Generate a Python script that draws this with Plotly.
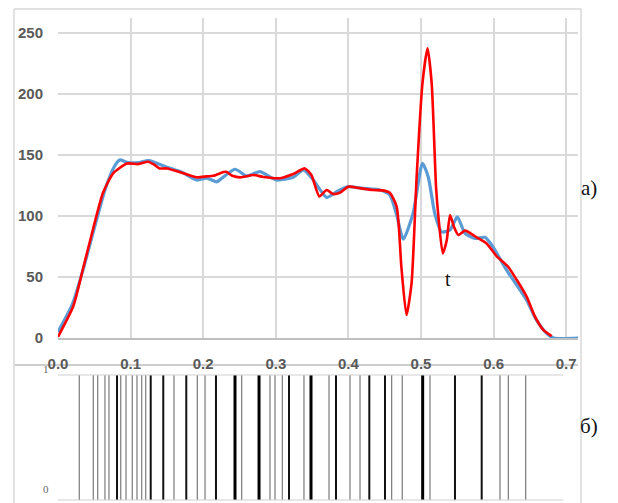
import plotly.graph_objects as go

W, H = 618, 503

# ---------------- data ----------------
red_x = [0, 0.021, 0.035, 0.049, 0.062, 0.076, 0.095, 0.11, 0.124, 0.133, 0.140, 0.150,
         0.173, 0.191, 0.205, 0.214, 0.228, 0.232, 0.240, 0.251, 0.269, 0.283, 0.306,
         0.324, 0.340, 0.349, 0.360, 0.370, 0.379, 0.388, 0.400, 0.416, 0.434, 0.447,
         0.457, 0.4665, 0.473, 0.480, 0.487, 0.494, 0.502, 0.509, 0.5147, 0.5207, 0.524,
         0.530, 0.5354, 0.540, 0.5455, 0.5514, 0.5606, 0.5767, 0.590, 0.604, 0.620,
         0.632, 0.6455, 0.657, 0.6685, 0.680]
red_y = [1, 26, 58, 91, 119, 135, 143, 142.5, 144.5, 142, 139, 139,
         135, 131.7, 132.5, 133, 136, 136.3, 133, 131.7, 133.6, 132, 131,
         134.4, 139, 133.6, 116, 121.3, 118, 119, 124, 122.7, 121.3, 121,
         119, 107.6, 58, 18.8, 45, 132, 208.8, 237.4, 208.8, 124, 99.4,
         69.4, 80, 100.8, 91, 84.4, 88, 82.5, 77.6, 67.2, 58.4,
         47.5, 33.9, 17.5, 6.6, 1.6]

blue_x = [0, 0.02, 0.035, 0.05, 0.065, 0.078, 0.0854, 0.095, 0.11, 0.125, 0.15, 0.17,
          0.191, 0.205, 0.2185, 0.2238, 0.2438, 0.26, 0.278, 0.301, 0.324, 0.338,
          0.3517, 0.370, 0.384, 0.398, 0.4205, 0.4435, 0.457, 0.4665, 0.4756, 0.489,
          0.502, 0.510, 0.519, 0.5285, 0.54, 0.550, 0.5606, 0.5744, 0.588, 0.5974,
          0.618, 0.6455, 0.659, 0.673, 0.683, 0.7167]
blue_y = [5, 28, 57, 90, 122, 141, 146, 144, 143.7, 145.5, 140, 136,
          129.5, 131, 128, 130, 138.3, 132.8, 136.3, 129.5, 131.7, 137.7,
          129.5, 115.3, 120, 124, 122.7, 121.3, 117.2, 100.8, 81, 102,
          143.2, 132, 102, 87, 88.5, 99.4, 85.8, 81.7, 82.5, 76.2,
          55.7, 31, 14.8, 3.8, 0, 0]

# barcode (panel б): positions and weight class (1 thin, 2 medium, 3 thick)
bar_x = [0.0293, 0.0486, 0.0547, 0.0647, 0.0702, 0.0813, 0.0864, 0.0937, 0.1023,
         0.1088, 0.1153, 0.1208, 0.1277, 0.1450, 0.1598, 0.1767, 0.1919, 0.2025,
         0.2176, 0.2438, 0.2530, 0.2769, 0.2920, 0.2989, 0.3090, 0.3182, 0.3388,
         0.3485, 0.3733, 0.3829, 0.4022, 0.4160, 0.4288, 0.4504, 0.4596, 0.4742,
         0.5023, 0.5124, 0.5468, 0.5836, 0.6088, 0.6203, 0.6442]
bar_w = [1, 1, 1, 1, 1, 2, 1, 1, 1,
         1, 1, 1, 2, 2, 1, 2, 1, 1,
         2, 3, 1, 3, 1, 1, 1, 2, 1,
         3, 1, 2, 1, 1, 2, 2, 1, 1,
         3, 1, 2, 2, 1, 1, 1]

y_ticks = [0, 50, 100, 150, 200, 250]
x_ticks = [0, 0.1, 0.2, 0.3, 0.4, 0.5, 0.6, 0.7]
x_ticklabels = ["0.0", "0.1", "0.2", "0.3", "0.4", "0.5", "0.6", "0.7"]

# ---------------- layout helpers ----------------
def px(x):
    return x / W

def py(y):
    return 1 - y / H

X0, X1 = 58, 578           # plot area horizontal pixels
XMAX = (X1 - X0) / 726.0   # 0.1 per 72.6 px
TOP_Y0, TOP_Y1 = 18, 338
YMAX = (TOP_Y1 - TOP_Y0) / 1.22

fig = go.Figure()

fig.add_trace(go.Scatter(x=blue_x, y=blue_y, mode="lines",
                         line=dict(color="#5B9BD5", width=3.2, shape="spline", smoothing=0.6),
                         xaxis="x", yaxis="y", hoverinfo="skip"))
fig.add_trace(go.Scatter(x=red_x, y=red_y, mode="lines",
                         line=dict(color="#FF0000", width=2.6, shape="spline", smoothing=0.6),
                         xaxis="x", yaxis="y", hoverinfo="skip"))

styles = {1: ("#7a7a7a", 1.2), 2: ("#111111", 2.0), 3: ("#000000", 3.0)}
for k, (col, wd) in styles.items():
    xs, ys = [], []
    for bx, bw in zip(bar_x, bar_w):
        if bw == k:
            xs += [bx, bx, None]
            ys += [0, 1, None]
    fig.add_trace(go.Scatter(x=xs, y=ys, mode="lines", line=dict(color=col, width=wd),
                             xaxis="x2", yaxis="y2", hoverinfo="skip"))

# horizontal lines at 0 and 1 in panel б
bx_end = (563 - X0) / 726.0
for yy in (0, 1):
    fig.add_trace(go.Scatter(x=[0, bx_end], y=[yy, yy], mode="lines",
                             line=dict(color="#d0d0d0", width=1.2),
                             xaxis="x2", yaxis="y2", hoverinfo="skip"))

tickfont = dict(family="Liberation Sans", size=15, color="#595959", weight="bold")

# bottom panel vertical pixel domain, with padding so 0 and 1 lines are visible
B_top, B_bot = 375, 500
pad = 0.02
unit = (B_bot - B_top)
d0 = py(B_bot + pad * unit)
d1 = py(B_top - pad * unit)

fig.update_layout(
    width=W, height=H,
    margin=dict(l=0, r=0, t=0, b=0, autoexpand=False),
    paper_bgcolor="white", plot_bgcolor="white",
    showlegend=False,
    xaxis=dict(domain=[px(X0), px(X1)], range=[0, XMAX], tickvals=x_ticks,
               ticktext=x_ticklabels, showgrid=True, gridcolor="#d9d9d9", gridwidth=1.5,
               zeroline=False, showline=True, linecolor="#bfbfbf", linewidth=2,
               ticks="", tickfont=tickfont, ticklabelstandoff=11, anchor="y",
               automargin=False),
    yaxis=dict(domain=[py(TOP_Y1), py(TOP_Y0)], range=[0, YMAX], tickvals=y_ticks,
               showgrid=True, gridcolor="#d9d9d9", gridwidth=1.5, zeroline=False,
               showline=False, ticks="", tickfont=tickfont, ticklabelstandoff=14,
               anchor="x", automargin=False),
    xaxis2=dict(domain=[px(X0), px(X1)], range=[0, XMAX], showgrid=False, zeroline=False,
                showticklabels=False, showline=False, ticks="", anchor="y2",
                automargin=False),
    yaxis2=dict(domain=[d0, d1], range=[-pad, 1 + pad], showgrid=False, zeroline=False,
                showticklabels=False, showline=False, ticks="", anchor="x2",
                automargin=False),
)

line_col = "#d9d9d9"
shapes = [
    # outer frame
    dict(type="line", xref="paper", yref="paper", x0=px(14), x1=px(14), y0=py(9), y1=0,
         line=dict(color=line_col, width=1.5)),
    dict(type="line", xref="paper", yref="paper", x0=px(581), x1=px(581), y0=py(9), y1=0,
         line=dict(color=line_col, width=1.5)),
    dict(type="line", xref="paper", yref="paper", x0=px(14), x1=px(581), y0=py(9), y1=py(9),
         line=dict(color=line_col, width=1.5)),
    # separator line under the top chart
    dict(type="line", xref="paper", yref="paper", x0=px(14), x1=px(578), y0=py(365), y1=py(365),
         line=dict(color="#bdbdbd", width=1.5), layer="below"),
]
fig.update_layout(shapes=shapes)

serif = "Liberation Serif"
annotations = [
    dict(text="a)", x=px(599), y=py(188), xref="paper", yref="paper", showarrow=False,
         font=dict(family=serif, size=21, color="#111111")),
    dict(text="б)", x=px(600), y=py(440), xref="paper", yref="paper", showarrow=False,
         font=dict(family=serif, size=21, color="#111111")),
    dict(text="t", x=0.537, y=(338 - 279) / 1.22, xref="x", yref="y", showarrow=False,
         font=dict(family=serif, size=20, color="#111111")),
    dict(text="1", x=px(41), y=py(377), xref="paper", yref="paper", showarrow=False,
         font=dict(family=serif, size=11, color="#666666")),
    dict(text="0", x=px(41), y=py(497), xref="paper", yref="paper", showarrow=False,
         font=dict(family=serif, size=11, color="#666666")),
]
fig.update_layout(annotations=annotations)

fig.write_html("out.html", config={"displayModeBar": False},
               post_script="document.body.style.margin='0';")
